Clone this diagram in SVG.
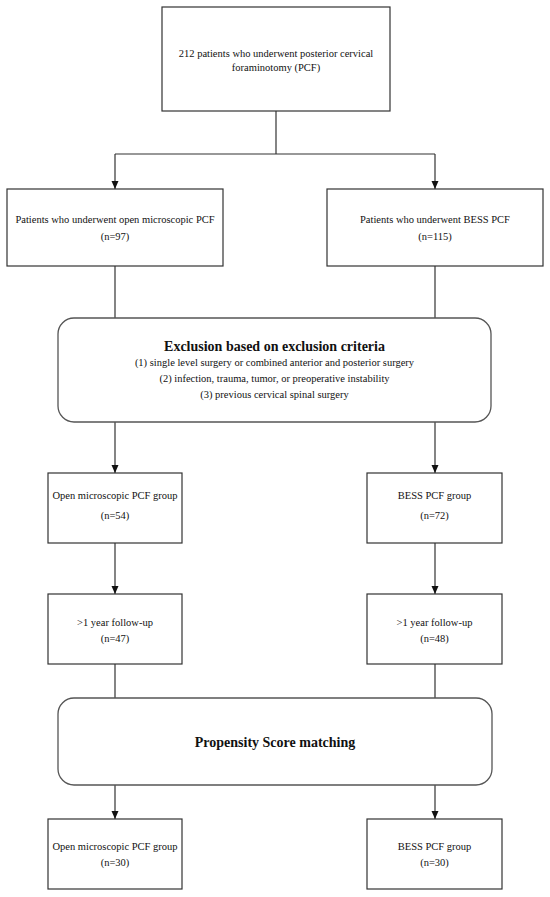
<svg xmlns="http://www.w3.org/2000/svg" width="550" height="897" viewBox="0 0 550 897">
<defs>
<style>
.box{fill:#fff;stroke:#333;stroke-width:1.2}
.rbox{fill:#fff;stroke:#555;stroke-width:1.3}
.t{font-family:"Liberation Serif","Times New Roman",serif;font-size:10.5px;fill:#111;text-anchor:middle}
.h{font-family:"Liberation Serif","Times New Roman",serif;font-size:14px;font-weight:bold;fill:#111;text-anchor:middle}
.c{fill:none;stroke:#333;stroke-width:1.2}
</style>
<marker id="arr" markerUnits="userSpaceOnUse" markerWidth="8" markerHeight="8" refX="8" refY="4" orient="auto">
<path d="M0,0.5 L8,4 L0,7.5 z" fill="#111"/>
</marker>
</defs>
<rect width="550" height="897" fill="#fff"/>
<g id="connectors">
<path class="c" d="M276,111 V154"/>
<path class="c" d="M115,154 H435"/>
<path class="c" d="M115,154 V189" marker-end="url(#arr)"/>
<path class="c" d="M435,154 V189" marker-end="url(#arr)"/>
<path class="c" d="M115,266 V318"/>
<path class="c" d="M435,266 V318"/>
<path class="c" d="M115,422 V473" marker-end="url(#arr)"/>
<path class="c" d="M435,422 V473" marker-end="url(#arr)"/>
<path class="c" d="M115,543 V594" marker-end="url(#arr)"/>
<path class="c" d="M435,543 V594" marker-end="url(#arr)"/>
<path class="c" d="M115,664 V698"/>
<path class="c" d="M435,664 V698"/>
<path class="c" d="M115,785 V819" marker-end="url(#arr)"/>
<path class="c" d="M435,785 V819" marker-end="url(#arr)"/>
</g>
<g id="n-total">
<rect class="box" x="162" y="7" width="228" height="104"/>
<text class="t" x="276" y="57">212 patients who underwent posterior cervical</text>
<text class="t" x="276" y="71">foraminotomy (PCF)</text>
</g>
<g id="n-open97">
<rect class="box" x="7" y="189" width="216" height="77"/>
<text class="t" x="115" y="223">Patients who underwent open microscopic PCF</text>
<text class="t" x="115" y="240">(n=97)</text>
</g>
<g id="n-bess115">
<rect class="box" x="327" y="189" width="216" height="77"/>
<text class="t" x="435" y="223">Patients who underwent BESS PCF</text>
<text class="t" x="435" y="240">(n=115)</text>
</g>
<g id="n-exclusion">
<rect class="rbox" x="58" y="318" width="433" height="104" rx="16" ry="16"/>
<text class="h" x="274.5" y="351">Exclusion based on exclusion criteria</text>
<text class="t" x="274.5" y="366">(1) single level surgery or combined anterior and posterior surgery</text>
<text class="t" x="274.5" y="382">(2) infection, trauma, tumor, or preoperative instability</text>
<text class="t" x="274.5" y="398">(3) previous cervical spinal surgery</text>
</g>
<g id="n-open54">
<rect class="box" x="48" y="473" width="134" height="70"/>
<text class="t" x="115" y="499">Open microscopic PCF group</text>
<text class="t" x="115" y="519">(n=54)</text>
</g>
<g id="n-bess72">
<rect class="box" x="367" y="473" width="135" height="70"/>
<text class="t" x="434.5" y="499">BESS PCF group</text>
<text class="t" x="434.5" y="519">(n=72)</text>
</g>
<g id="n-open47">
<rect class="box" x="48" y="594" width="134" height="70"/>
<text class="t" x="115" y="626">&gt;1 year follow-up</text>
<text class="t" x="115" y="642">(n=47)</text>
</g>
<g id="n-bess48">
<rect class="box" x="367" y="594" width="135" height="70"/>
<text class="t" x="434.5" y="626">&gt;1 year follow-up</text>
<text class="t" x="434.5" y="642">(n=48)</text>
</g>
<g id="n-psm">
<rect class="rbox" x="58" y="698" width="434" height="87" rx="16" ry="16"/>
<text class="h" x="275" y="747">Propensity Score matching</text>
</g>
<g id="n-open30">
<rect class="box" x="48" y="819" width="134" height="70"/>
<text class="t" x="115" y="850">Open microscopic PCF group</text>
<text class="t" x="115" y="866">(n=30)</text>
</g>
<g id="n-bess30">
<rect class="box" x="367" y="819" width="135" height="70"/>
<text class="t" x="434.5" y="850">BESS PCF group</text>
<text class="t" x="434.5" y="866">(n=30)</text>
</g>
</svg>
